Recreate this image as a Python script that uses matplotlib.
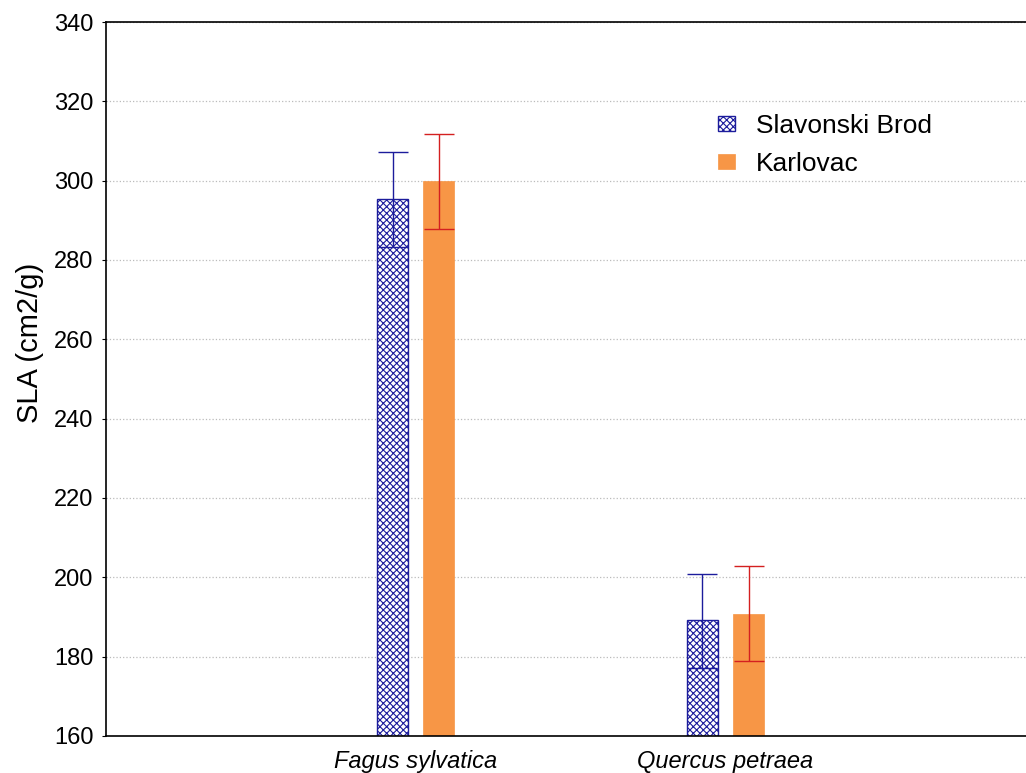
import numpy as np
import matplotlib.pyplot as plt
import matplotlib.ticker as mticker

plt.rcParams['font.family'] = ['Liberation Sans', 'DejaVu Sans']
plt.rcParams['hatch.linewidth'] = 0.8

species = ['Fagus sylvatica', 'Quercus petraea']
groups = ['Slavonski Brod', 'Karlovac']
sb_mean = [295.4, 189.2]
sb_low = [283.4, 177.2]
sb_high = [307.2, 200.8]
ka_mean = [300.0, 190.7]
ka_low = [287.8, 178.9]
ka_high = [311.8, 202.9]

fig = plt.figure(figsize=(10.26, 7.73), dpi=100)
ax = fig.add_axes([0.1033, 0.048, 0.8967, 0.9235])

x = np.arange(1, len(species) + 1)
w = 0.1
off = 0.075

ax.bar(x - off, sb_mean, w, color='white', edgecolor='#1c1c9c', hatch='xxxxx',
       linewidth=1.0, label=groups[0], zorder=2)
ax.bar(x + off, ka_mean, w, color='#f79646', edgecolor='#f79646',
       linewidth=0.5, label=groups[1], zorder=2)

sb_err = [np.array(sb_mean) - np.array(sb_low), np.array(sb_high) - np.array(sb_mean)]
ka_err = [np.array(ka_mean) - np.array(ka_low), np.array(ka_high) - np.array(ka_mean)]
ax.errorbar(x - off, sb_mean, yerr=sb_err, fmt='none', ecolor='#1c1c9c',
            elinewidth=1.0, capsize=11, capthick=1.0, zorder=3)
ax.errorbar(x + off, ka_mean, yerr=ka_err, fmt='none', ecolor='#d42020',
            elinewidth=1.0, capsize=11, capthick=1.0, zorder=3)

ax.set_xlim(0, 2.97)
ax.set_ylim(160, 340)
ax.yaxis.set_major_locator(mticker.MultipleLocator(20))
ax.set_xticks(x)
ax.set_xticklabels(species, style='italic', fontsize=17)
ax.tick_params(axis='x', length=0, pad=10)
ax.tick_params(axis='y', labelsize=17, length=3, pad=6, direction='out')
ax.set_ylabel('SLA (cm2/g)', fontsize=21)
ax.yaxis.set_label_coords(-0.067, 0.55)

ax.grid(axis='y', color='#bbbbbb', linestyle=':', linewidth=0.9, zorder=0)
ax.set_axisbelow(True)
ax.spines['right'].set_visible(False)
for s in ['left', 'top', 'bottom']:
    ax.spines[s].set_linewidth(1.2)

fig.legend(loc='upper left', bbox_to_anchor=(718 / 1026, 1 - 114 / 773),
           frameon=False, fontsize=19, handlelength=0.65, handleheight=0.5,
           handletextpad=0.8, labelspacing=0.52, borderpad=0, borderaxespad=0)

fig.savefig('out.png', dpi=100)
